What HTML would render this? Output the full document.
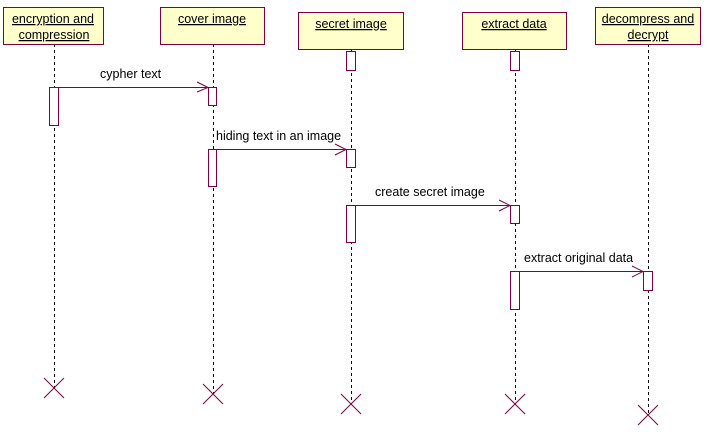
<!DOCTYPE html>
<html><head><style>
body{margin:0;background:#fff;}
svg text{font-family:"Liberation Sans",Arial,sans-serif;font-size:12.5px;fill:#000;}
</style></head><body>
<svg width="714" height="443" xmlns="http://www.w3.org/2000/svg">
<g stroke="#000" stroke-dasharray="3,3" stroke-width="1">
<line x1="54.5" y1="44" x2="54.5" y2="388"/>
<line x1="213.5" y1="44" x2="213.5" y2="394"/>
<line x1="351.5" y1="49" x2="351.5" y2="404"/>
<line x1="515.5" y1="49" x2="515.5" y2="404"/>
<line x1="648.5" y1="44" x2="648.5" y2="415"/>
</g>
<g fill="#ffffcc" stroke="#800040" stroke-width="1">
<rect x="3.5" y="7.5" width="100" height="37"/>
<rect x="160.5" y="7.5" width="104" height="37"/>
<rect x="298.5" y="12.5" width="105" height="37"/>
<rect x="462.5" y="12.5" width="104" height="37"/>
<rect x="595.5" y="7.5" width="105" height="37"/>
</g>
<g text-anchor="middle" text-decoration="underline">
<text x="53" y="23">encryption and </text><text x="54" y="39">compression</text>
<text x="212" y="23">cover image</text>
<text x="351" y="28">secret image</text>
<text x="514" y="28">extract data</text>
<text x="648" y="23">decompress and </text><text x="648" y="39">decrypt</text>
</g>
<g fill="#fff" stroke="#800040" stroke-width="1">
<rect x="346.5" y="51.5" width="9" height="19"/>
<rect x="510.5" y="51.5" width="9" height="19"/>
<rect x="49.5" y="87.5" width="9" height="38"/>
<rect x="208.5" y="87.5" width="8" height="18"/>
<rect x="208.5" y="149.5" width="8" height="37"/>
<rect x="346.5" y="149.5" width="9" height="18"/>
<rect x="346.5" y="205.5" width="9" height="37"/>
<rect x="510.5" y="205.5" width="9" height="18"/>
<rect x="510.5" y="271.5" width="9" height="38"/>
<rect x="643.5" y="271.5" width="9" height="19"/>
</g>
<g stroke="#800040" stroke-width="1" fill="none">
<line x1="58" y1="87.5" x2="208" y2="87.5"/><polyline points="197,82 208,87.5 197,92"/>
<line x1="216" y1="149.5" x2="346" y2="149.5"/><polyline points="335,144 346,149.5 335,155"/>
<line x1="355" y1="205.5" x2="510" y2="205.5"/><polyline points="499,200 510,205.5 499,211"/>
<line x1="519" y1="271.5" x2="643" y2="271.5"/><polyline points="632,266 643,271.5 632,277"/>
<path d="M44,378 L64,398 M64,378 L44,398"/>
<path d="M203,384 L223,404 M223,384 L203,404"/>
<path d="M341,394 L361,414 M361,394 L341,414"/>
<path d="M505,394 L525,414 M525,394 L505,414"/>
<path d="M638,405 L658,425 M658,405 L638,425"/>
</g>
<text x="100" y="78">cypher text</text>
<text x="216" y="140">hiding text in an image</text>
<text x="375" y="196">create secret image</text>
<text x="524" y="262">extract original data</text>
</svg>
</body></html>
